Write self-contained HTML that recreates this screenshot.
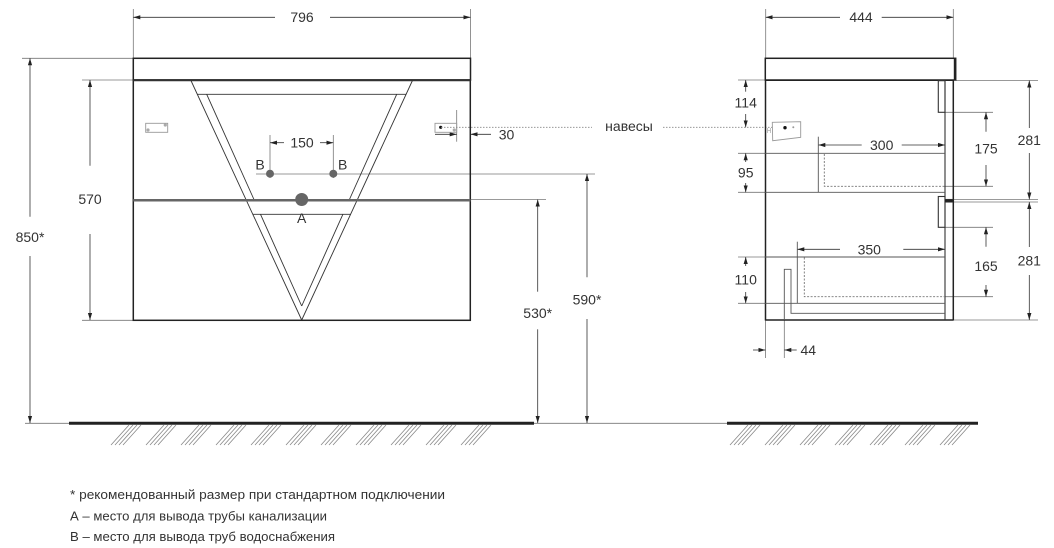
<!DOCTYPE html>
<html><head><meta charset="utf-8"><style>
html,body{margin:0;padding:0;background:#fff;}
svg{display:block;}
text{font-family:"Liberation Sans",sans-serif;fill:#333;}
</style></head><body>
<svg width="1054" height="548" viewBox="0 0 1054 548" xmlns="http://www.w3.org/2000/svg">
<defs>
<marker id="a" markerUnits="userSpaceOnUse" markerWidth="7" markerHeight="5" refX="7" refY="2.5" orient="auto"><path d="M0,0.4 L7,2.5 L0,4.6 z" fill="#222"/></marker>
</defs>
<rect width="1054" height="548" fill="#fff"/>

<!-- ========== LEFT (FRONT) VIEW ========== -->
<g stroke="#777" stroke-width="0.8" fill="none">
  <line x1="133.3" y1="9" x2="133.3" y2="58"/>
  <line x1="470.5" y1="9" x2="470.5" y2="58"/>
  <line x1="22" y1="58.3" x2="133" y2="58.3"/>
  <line x1="82" y1="80" x2="133" y2="80"/>
  <line x1="82" y1="320.3" x2="133" y2="320.3"/>
  <line x1="270" y1="135" x2="270" y2="178"/>
  <line x1="333.3" y1="135" x2="333.3" y2="178"/>
  <line x1="256" y1="174" x2="595" y2="174"/>
  <line x1="470" y1="199.5" x2="546" y2="199.5"/>
  <line x1="456.7" y1="110" x2="456.7" y2="141.7"/>
  <line x1="25" y1="423.3" x2="727" y2="423.3"/>
</g>
<g stroke="#333" stroke-width="0.8" fill="none">
  <line x1="275" y1="17.3" x2="133.3" y2="17.3" marker-end="url(#a)"/>
  <line x1="330" y1="17.3" x2="470.5" y2="17.3" marker-end="url(#a)"/>
  <line x1="30" y1="216.7" x2="30" y2="58.3" marker-end="url(#a)"/>
  <line x1="30" y1="256" x2="30" y2="423" marker-end="url(#a)"/>
  <line x1="90" y1="165.7" x2="90" y2="80" marker-end="url(#a)"/>
  <line x1="90" y1="234" x2="90" y2="320" marker-end="url(#a)"/>
  <line x1="284" y1="142.7" x2="270" y2="142.7" marker-end="url(#a)"/>
  <line x1="320" y1="142.7" x2="333.3" y2="142.7" marker-end="url(#a)"/>
  <line x1="537.7" y1="291.7" x2="537.7" y2="199.5" marker-end="url(#a)"/>
  <line x1="537.7" y1="329.3" x2="537.7" y2="423" marker-end="url(#a)"/>
  <line x1="587" y1="277.3" x2="587" y2="174" marker-end="url(#a)"/>
  <line x1="587" y1="319" x2="587" y2="423" marker-end="url(#a)"/>
  <line x1="435" y1="134.3" x2="456.7" y2="134.3" marker-end="url(#a)"/>
  <line x1="491" y1="134.3" x2="470.5" y2="134.3" marker-end="url(#a)"/>
</g>

<rect x="133.3" y="58.3" width="337.2" height="21.7" fill="none" stroke="#222" stroke-width="1.5"/>
<rect x="133.3" y="80" width="337" height="240.3" fill="none" stroke="#222" stroke-width="1.5"/>
<line x1="133.3" y1="80.3" x2="470.5" y2="80.3" stroke="#333" stroke-width="2"/>

<g stroke="#333" stroke-width="0.9" fill="none">
  <line x1="190.7" y1="80" x2="301.7" y2="320"/>
  <line x1="412.7" y1="80" x2="301.7" y2="320"/>
  <line x1="197.2" y1="94.3" x2="406.2" y2="94.3"/>
  <line x1="206.7" y1="94.3" x2="254.2" y2="200"/>
  <line x1="396.7" y1="94.3" x2="349.2" y2="200"/>
  <line x1="252.7" y1="214.3" x2="350.7" y2="214.3"/>
  <line x1="260.5" y1="214.3" x2="301.7" y2="306"/>
  <line x1="342.9" y1="214.3" x2="301.7" y2="306"/>
</g>
<line x1="133.3" y1="200.3" x2="470.5" y2="200.3" stroke="#666" stroke-width="2.5"/>

<circle cx="270" cy="173.7" r="4" fill="#666"/>
<circle cx="333.3" cy="173.7" r="4" fill="#666"/>
<circle cx="301.7" cy="199.5" r="6.5" fill="#666"/>

<rect x="145.7" y="123.3" width="22" height="9" fill="none" stroke="#999" stroke-width="0.9"/>
<circle cx="148" cy="130" r="1.6" fill="#aaa"/>
<circle cx="165.3" cy="125" r="1.6" fill="#aaa"/>
<rect x="435" y="123.3" width="21.7" height="9" fill="none" stroke="#999" stroke-width="0.9"/>
<circle cx="440.7" cy="127.3" r="1.6" fill="#111"/>
<circle cx="454.3" cy="130" r="1.6" fill="#aaa"/>

<g stroke="#888" stroke-width="0.8" stroke-dasharray="1.5,1.5">
  <line x1="441" y1="127.3" x2="592" y2="127.3"/>
  <line x1="663" y1="127.3" x2="785" y2="127.3"/>
</g>

<line x1="69" y1="423.3" x2="534" y2="423.3" stroke="#222" stroke-width="3"/>

<g font-size="14" text-anchor="middle">
  <text x="302" y="22">796</text>
  <text x="30" y="242">850*</text>
  <text x="90" y="204">570</text>
  <text x="302" y="147.7">150</text>
  <text x="260" y="169.3">B</text>
  <text x="342.7" y="169.3">B</text>
  <text x="301.7" y="223">A</text>
  <text x="537.7" y="318">530*</text>
  <text x="587" y="304.5">590*</text>
  <text x="506.5" y="139.3">30</text>
  <text x="629" y="131">навесы</text>
</g>

<!-- ========== RIGHT (SIDE) VIEW ========== -->
<g stroke="#777" stroke-width="0.8" fill="none">
  <line x1="765.7" y1="9" x2="765.7" y2="58"/>
  <line x1="953.3" y1="9" x2="953.3" y2="58"/>
  <line x1="738" y1="80" x2="765" y2="80"/>
  <line x1="956" y1="80.5" x2="1038" y2="80.5"/>
  <line x1="953" y1="199.5" x2="1038" y2="199.5"/>
  <line x1="953" y1="202" x2="1038" y2="202"/>
  <line x1="953" y1="320" x2="1038" y2="320"/>
  <line x1="945" y1="112.3" x2="993" y2="112.3"/>
  <line x1="945" y1="186.3" x2="993" y2="186.3"/>
  <line x1="945" y1="227.3" x2="993" y2="227.3"/>
  <line x1="945" y1="296.7" x2="993" y2="296.7"/>
  <line x1="738" y1="153.3" x2="765" y2="153.3"/>
  <line x1="738" y1="192.3" x2="765" y2="192.3"/>
  <line x1="738" y1="257" x2="765" y2="257"/>
  <line x1="738" y1="303.3" x2="765" y2="303.3"/>
  <line x1="765.5" y1="320" x2="765.5" y2="358"/>
  <line x1="784.3" y1="320" x2="784.3" y2="358"/>
</g>
<g stroke="#333" stroke-width="0.8" fill="none">
  <line x1="840" y1="17.3" x2="765.7" y2="17.3" marker-end="url(#a)"/>
  <line x1="881.7" y1="17.3" x2="953.3" y2="17.3" marker-end="url(#a)"/>
  <line x1="745.7" y1="91.7" x2="745.7" y2="80" marker-end="url(#a)"/>
  <line x1="745.7" y1="114" x2="745.7" y2="127.3" marker-end="url(#a)"/>
  <line x1="745.7" y1="162" x2="745.7" y2="153.3" marker-end="url(#a)"/>
  <line x1="745.7" y1="183" x2="745.7" y2="192.3" marker-end="url(#a)"/>
  <line x1="745.7" y1="266" x2="745.7" y2="257" marker-end="url(#a)"/>
  <line x1="745.7" y1="292" x2="745.7" y2="303.3" marker-end="url(#a)"/>
  <line x1="986" y1="131.7" x2="986" y2="112.3" marker-end="url(#a)"/>
  <line x1="986" y1="165" x2="986" y2="186.3" marker-end="url(#a)"/>
  <line x1="986" y1="246.7" x2="986" y2="227.3" marker-end="url(#a)"/>
  <line x1="986" y1="285" x2="986" y2="296.7" marker-end="url(#a)"/>
  <line x1="1029.3" y1="128" x2="1029.3" y2="80.5" marker-end="url(#a)"/>
  <line x1="1029.3" y1="153" x2="1029.3" y2="199.5" marker-end="url(#a)"/>
  <line x1="1029.3" y1="247" x2="1029.3" y2="202" marker-end="url(#a)"/>
  <line x1="1029.3" y1="275" x2="1029.3" y2="320" marker-end="url(#a)"/>
  <line x1="861.7" y1="145" x2="818.3" y2="145" marker-end="url(#a)"/>
  <line x1="901.7" y1="145" x2="945" y2="145" marker-end="url(#a)"/>
  <line x1="840" y1="249.3" x2="797.3" y2="249.3" marker-end="url(#a)"/>
  <line x1="903.3" y1="249.3" x2="945" y2="249.3" marker-end="url(#a)"/>
  <line x1="753" y1="350" x2="765.5" y2="350" marker-end="url(#a)"/>
  <line x1="796.7" y1="350" x2="784.3" y2="350" marker-end="url(#a)"/>
</g>

<rect x="765.3" y="58.3" width="190.4" height="21.7" fill="none" stroke="#222" stroke-width="1.5"/>
<line x1="954.8" y1="58.3" x2="954.8" y2="80" stroke="#222" stroke-width="2"/>
<g stroke="#222" stroke-width="1.5" fill="none">
  <line x1="765.5" y1="80" x2="765.5" y2="320.5"/>
  <line x1="765.5" y1="320" x2="953.3" y2="320"/>
  <line x1="953.3" y1="80" x2="953.3" y2="320.5"/>
  <line x1="765.3" y1="80.3" x2="953" y2="80.3"/>
</g>
<g stroke="#333" stroke-width="1.1" fill="none">
  <line x1="945" y1="80" x2="945" y2="320"/>
  <line x1="945" y1="199.5" x2="953.3" y2="199.5"/>
  <line x1="945" y1="202" x2="953.3" y2="202"/>
  <rect x="938.3" y="80.7" width="6.7" height="31.6"/>
  <rect x="938.3" y="196.5" width="6.7" height="30.8"/>
</g>
<line x1="945" y1="200.7" x2="953.3" y2="200.7" stroke="#222" stroke-width="2.2"/>

<g stroke="#555" stroke-width="0.9" fill="none">
  <line x1="765" y1="153.3" x2="945" y2="153.3"/>
  <line x1="765" y1="192.3" x2="945" y2="192.3"/>
  <line x1="818.3" y1="136.7" x2="818.3" y2="192.3"/>
  <line x1="765" y1="257" x2="945" y2="257"/>
  <line x1="765" y1="303.3" x2="945" y2="303.3"/>
  <line x1="797.3" y1="241.7" x2="797.3" y2="303.3"/>
  <path d="M784.3,320 V269.3 H791 V313.3 H945"/>
</g>
<g stroke="#777" stroke-width="0.9" fill="none" stroke-dasharray="2,1.5">
  <path d="M824.3,154 V186.3 H945"/>
  <path d="M804.3,257.5 V296.7 H945"/>
</g>

<polygon points="772.3,122.3 800.7,121.7 800.7,137.3 772.7,140.7" fill="#fff" stroke="#999" stroke-width="0.9"/>
<circle cx="785" cy="127.7" r="1.7" fill="#111"/>
<circle cx="793.3" cy="127.3" r="1" fill="#999"/>
<g stroke="#aaa" stroke-width="0.7"><line x1="767.5" y1="128" x2="767.5" y2="133"/><line x1="770.5" y1="128" x2="770.5" y2="133"/><line x1="767.5" y1="130.5" x2="770.5" y2="130.5"/></g>

<line x1="727" y1="423.3" x2="978" y2="423.3" stroke="#222" stroke-width="3"/>

<!-- hatching -->
<g stroke="#888" stroke-width="0.8">
  <path id="h" d="M111,445 L129,425 M115,445 L133,425 M119,445 L137,425 M123,445 L141,425"/>
</g>
<g stroke="#888" stroke-width="0.8">
  <use href="#h" x="35"/><use href="#h" x="70"/><use href="#h" x="105"/><use href="#h" x="140"/>
  <use href="#h" x="175"/><use href="#h" x="210"/><use href="#h" x="245"/><use href="#h" x="280"/>
  <use href="#h" x="315"/><use href="#h" x="350"/>
  <use href="#h" x="619"/><use href="#h" x="654"/><use href="#h" x="689"/><use href="#h" x="724"/>
  <use href="#h" x="759"/><use href="#h" x="794"/><use href="#h" x="829"/>
</g>

<g font-size="14" text-anchor="middle">
  <text x="861" y="22">444</text>
  <text x="745.7" y="107.7">114</text>
  <text x="745.7" y="177.7">95</text>
  <text x="745.7" y="284.5">110</text>
  <text x="881.7" y="150">300</text>
  <text x="869.3" y="254.3">350</text>
  <text x="986" y="153.5">175</text>
  <text x="986" y="271">165</text>
  <text x="1029.3" y="145">281</text>
  <text x="1029.3" y="265.7">281</text>
  <text x="808.3" y="355">44</text>
</g>

<g font-size="12.5">
  <text x="70" y="498.8" textLength="375" lengthAdjust="spacingAndGlyphs">* рекомендованный размер при стандартном подключении</text>
  <text x="70" y="520.5" textLength="257" lengthAdjust="spacingAndGlyphs">А – место для вывода трубы канализации</text>
  <text x="70" y="541.2" textLength="265" lengthAdjust="spacingAndGlyphs">В – место для вывода труб водоснабжения</text>
</g>
</svg>
</body></html>
